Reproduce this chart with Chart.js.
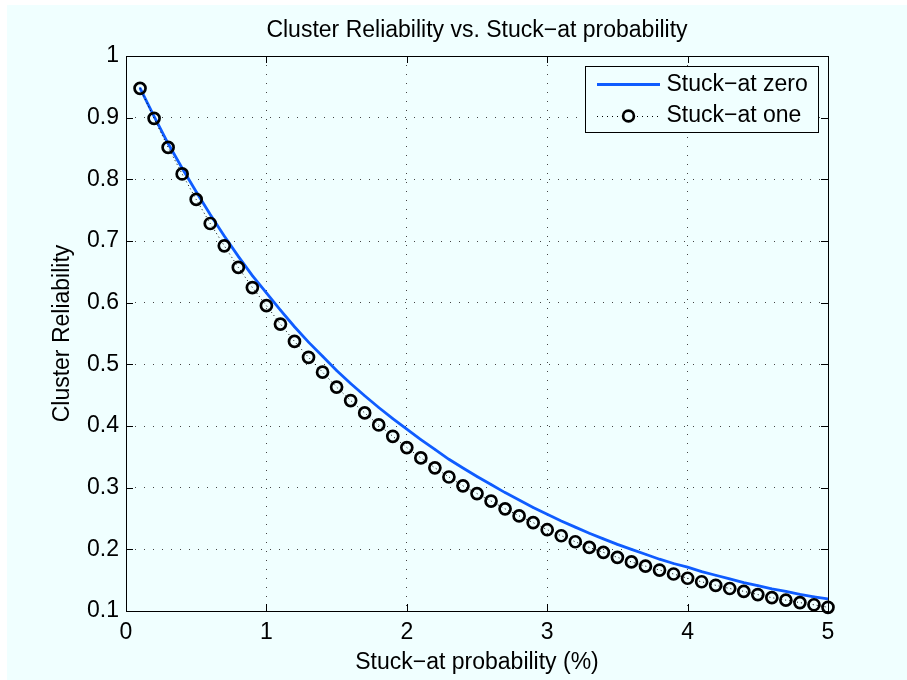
<!DOCTYPE html>
<html>
<head>
<meta charset="utf-8">
<title>Cluster Reliability vs. Stuck-at probability</title>
<script src="https://cdn.jsdelivr.net/npm/chart.js@4.4.1/dist/chart.umd.min.js"></script>
<style>
  html, body { margin: 0; padding: 0; background: #ffffff; }
  canvas { display: block; }
</style>
</head>
<body>
<canvas id="reliabilityChart" width="907" height="680"></canvas>
<script>
// Stuck-at probability in percent, one sample every 0.1 %
const probability = [
  0.1, 0.2, 0.3, 0.4, 0.5, 0.6, 0.7, 0.8, 0.9, 1.0,
  1.1, 1.2, 1.3, 1.4, 1.5, 1.6, 1.7, 1.8, 1.9, 2.0,
  2.1, 2.2, 2.3, 2.4, 2.5, 2.6, 2.7, 2.8, 2.9, 3.0,
  3.1, 3.2, 3.3, 3.4, 3.5, 3.6, 3.7, 3.8, 3.9, 4.0,
  4.1, 4.2, 4.3, 4.4, 4.5, 4.6, 4.7, 4.8, 4.9, 5.0
];

const stuckAtZero = [
  0.948, 0.902, 0.858, 0.818, 0.780, 0.743, 0.708, 0.675, 0.644, 0.616,
  0.588, 0.561, 0.536, 0.513, 0.490, 0.469, 0.449, 0.430, 0.412, 0.395,
  0.378, 0.362, 0.346, 0.332, 0.318, 0.305, 0.292, 0.280, 0.268, 0.257,
  0.246, 0.236, 0.226, 0.217, 0.208, 0.200, 0.192, 0.184, 0.177, 0.171,
  0.164, 0.158, 0.152, 0.146, 0.141, 0.136, 0.132, 0.127, 0.123, 0.1195
];

const stuckAtOne = [
  0.9476, 0.8989, 0.8518, 0.8087, 0.7674, 0.7284, 0.6922, 0.6572, 0.6245, 0.5952,
  0.5653, 0.5372, 0.5114, 0.4873, 0.4631, 0.4413, 0.4212, 0.4017, 0.3833, 0.3650,
  0.3483, 0.3322, 0.3173, 0.3030, 0.2904, 0.2783, 0.2657, 0.2542, 0.2433, 0.2318,
  0.2220, 0.2123, 0.2031, 0.1951, 0.1870, 0.1796, 0.1727, 0.1664, 0.1600, 0.1531,
  0.1474, 0.1417, 0.1365, 0.1319, 0.1267, 0.1216, 0.1176, 0.1136, 0.1101, 0.1060
];

const seriesNames = ['Stuck\u2212at zero', 'Stuck\u2212at one'];
const chartTitle = 'Cluster Reliability vs. Stuck\u2212at probability';
const xTitle = 'Stuck\u2212at probability (%)';
const yTitle = 'Cluster Reliability';

const BG = '#f0ffff';
const BLUE = '#0f5cff';
const FONT = '23px "Liberation Sans", Arial, sans-serif';

Chart.defaults.font.family = '"Liberation Sans", Arial, sans-serif';
Chart.defaults.font.size = 23;
Chart.defaults.color = '#000000';

// MATLAB-style box: figure background, closed frame with inward ticks,
// title, axis labels and the framed legend in the upper right
const matlabFrame = {
  id: 'matlabFrame',
  beforeDraw(chart) {
    const ctx = chart.ctx;
    ctx.save();
    ctx.fillStyle = '#ffffff';
    ctx.fillRect(0, 0, chart.width, chart.height);
    ctx.fillStyle = BG;
    ctx.fillRect(7, 5, chart.width - 7, chart.height - 5);
    ctx.restore();
  },
  beforeDatasetsDraw(chart) {
    const { ctx, chartArea: a, scales: { x, y } } = chart;
    ctx.save();
    ctx.strokeStyle = '#000000';
    ctx.lineWidth = 1;
    ctx.setLineDash([]);
    ctx.strokeRect(a.left + 0.5, a.top + 0.5, a.right - a.left, a.bottom - a.top);

    const tick = 7;
    ctx.beginPath();
    x.ticks.forEach(t => {
      const px = Math.round(x.getPixelForValue(t.value)) + 0.5;
      ctx.moveTo(px, a.bottom); ctx.lineTo(px, a.bottom - tick);
      ctx.moveTo(px, a.top); ctx.lineTo(px, a.top + tick);
    });
    y.ticks.forEach(t => {
      const py = Math.round(y.getPixelForValue(t.value)) + 0.5;
      ctx.moveTo(a.left, py); ctx.lineTo(a.left + tick, py);
      ctx.moveTo(a.right, py); ctx.lineTo(a.right - tick, py);
    });
    ctx.stroke();
    ctx.restore();
  },
  afterDraw(chart) {
    const { ctx, chartArea: a } = chart;
    const cx = (a.left + a.right) / 2;
    ctx.save();
    ctx.fillStyle = '#000000';
    ctx.font = FONT;

    // title
    ctx.textAlign = 'center';
    ctx.textBaseline = 'alphabetic';
    ctx.fillText(chartTitle, cx, 37);

    // x axis title
    ctx.fillText(xTitle, cx, 669);

    // y axis title
    ctx.save();
    ctx.translate(63, (a.top + a.bottom) / 2);
    ctx.rotate(-Math.PI / 2);
    ctx.textBaseline = 'middle';
    ctx.fillText(yTitle, 0, 0);
    ctx.restore();

    // legend box
    const lx = 585.5, ly = 66.5, lw = 233, lh = 66;
    ctx.fillStyle = BG;
    ctx.fillRect(lx, ly, lw, lh);
    ctx.strokeStyle = '#000000';
    ctx.lineWidth = 1;
    ctx.strokeRect(lx, ly, lw, lh);

    const row1 = 84.5, row2 = 116;
    const s0 = 597, s1 = 660, sm = (s0 + s1) / 2;

    // Stuck-at zero sample: solid blue line with a point marker
    ctx.strokeStyle = BLUE;
    ctx.lineWidth = 2.8;
    ctx.beginPath();
    ctx.moveTo(s0, row1); ctx.lineTo(s1, row1);
    ctx.stroke();
    ctx.fillStyle = BLUE;
    ctx.beginPath();
    ctx.arc(sm, row1, 1.6, 0, Math.PI * 2);
    ctx.fill();

    // Stuck-at one sample: dotted black line with a circle marker
    ctx.strokeStyle = '#000000';
    ctx.lineWidth = 1;
    ctx.setLineDash([1, 4]);
    ctx.beginPath();
    ctx.moveTo(s0, row2 + 0.5); ctx.lineTo(s1, row2 + 0.5);
    ctx.stroke();
    ctx.setLineDash([]);
    ctx.fillStyle = BG;
    ctx.lineWidth = 2.7;
    ctx.beginPath();
    ctx.arc(sm, row2, 5.4, 0, Math.PI * 2);
    ctx.fill();
    ctx.stroke();

    ctx.fillStyle = '#000000';
    ctx.textAlign = 'left';
    ctx.textBaseline = 'middle';
    ctx.fillText(seriesNames[0], 666.5, row1);
    ctx.fillText(seriesNames[1], 666.5, row2);
    ctx.restore();
  }
};

const toPoints = ys => probability.map((p, i) => ({ x: p, y: ys[i] }));

new Chart(document.getElementById('reliabilityChart'), {
  type: 'line',
  data: {
    datasets: [
      {
        label: seriesNames[0],
        data: toPoints(stuckAtZero),
        borderColor: BLUE,
        borderWidth: 2.8,
        pointRadius: 1,
        pointBackgroundColor: BLUE,
        pointBorderWidth: 0,
        tension: 0,
        fill: false,
        order: 2
      },
      {
        label: seriesNames[1],
        data: toPoints(stuckAtOne),
        borderColor: '#000000',
        borderWidth: 1,
        borderDash: [1, 3],
        pointStyle: 'circle',
        pointRadius: 5.5,
        pointBorderWidth: 2.7,
        pointBorderColor: '#000000',
        pointBackgroundColor: 'rgba(0,0,0,0)',
        tension: 0,
        fill: false,
        clip: 10,
        order: 1
      }
    ]
  },
  options: {
    responsive: false,
    animation: false,
    devicePixelRatio: 1,
    layout: { padding: { top: 56, right: 79, bottom: 0, left: 0 } },
    plugins: {
      legend: { display: false },
      title: { display: false },
      tooltip: { enabled: false }
    },
    scales: {
      x: {
        type: 'linear',
        min: 0,
        max: 5,
        ticks: { stepSize: 1, padding: 8, maxRotation: 0, callback: v => String(v) },
        grid: { color: '#444444', lineWidth: 1, drawTicks: false },
        border: { display: false, dash: [1, 8] },
        afterFit: s => { s.height = 69; }
      },
      y: {
        min: 0.1,
        max: 1,
        ticks: { stepSize: 0.1, padding: 7, callback: v => String(Math.round(v * 10) / 10) },
        grid: { color: '#444444', lineWidth: 1, drawTicks: false },
        border: { display: false, dash: [1, 8] },
        afterFit: s => { s.width = 126; }
      }
    }
  },
  plugins: [matlabFrame]
});
</script>
</body>
</html>
